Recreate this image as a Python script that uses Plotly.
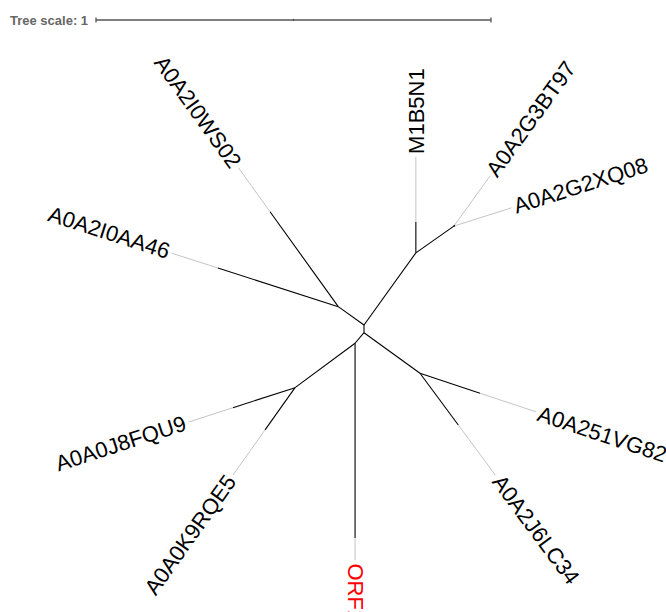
import math
import plotly.graph_objects as go

# ---- tree definition (unrooted layout, branch lengths in substitutions/site) ----
node_ids = ["root", "low", "C", "M1B5N1", "D", "A0A2G3BT97", "A0A2G2XQ08",
            "B", "A0A2I0WS02", "A0A2I0AA46", "E", "ORF1", "F",
            "A0A0J8FQU9", "A0A0K9RQE5", "G", "A0A251VG82", "A0A2J6LC34"]
parents = [None, "root", "root", "C", "C", "D", "D",
           "root", "B", "B", "low", "E", "E",
           "F", "F", "low", "G", "G"]
branch_lengths = [0.0, 0.0195, 0.225, 0.078, 0.1176, 0.003, 0.003,
                  0.080, 0.296, 0.320, 0.035, 0.493, 0.189,
                  0.165, 0.131, 0.175, 0.160, 0.163]
# direction of each branch in the unrooted drawing (degrees, counter-clockwise)
angles = [0, 270, 54.3, 90, 35.1, 54.2, 17.6,
          144.5, 125.7, 162.2, 229.7, 270, 216.5,
          197.9, 234.6, 324.1, 341.6, 306.5]
# dotted label connectors for the leaves
leaf_ext = {"M1B5N1": 0.165, "A0A2G3BT97": 0.153, "A0A2G2XQ08": 0.150,
            "A0A2I0WS02": 0.136, "A0A2I0AA46": 0.123, "ORF1": 0.056,
            "A0A0J8FQU9": 0.119, "A0A0K9RQE5": 0.140,
            "A0A251VG82": 0.150, "A0A2J6LC34": 0.158}
label_colors = {"ORF1": "#ff0000"}

tree_scale = 1.0
PX = 395.0                 # pixels per tree unit
ROOT_PX = (364.0, 325.0)   # where the root sits on the canvas
W, H = 666, 612
FONT_SIZE = 22

# Arial advance widths (em) for label width estimates
ARIAL = {"A": .667, "B": .667, "C": .722, "D": .722, "E": .667, "F": .611,
         "G": .778, "I": .278, "J": .5, "K": .667, "L": .556, "M": .833,
         "N": .722, "O": .778, "Q": .778, "R": .722, "S": .667, "T": .611,
         "U": .722, "V": .667, "W": .944, "X": .667}


def text_width(s, size):
    return sum(ARIAL.get(ch, .556) for ch in s) * size


# ---- compute node coordinates ----
pos = {}
for nid, par, bl, ang in zip(node_ids, parents, branch_lengths, angles):
    if par is None:
        pos[nid] = (0.0, 0.0)
        continue
    px, py = pos[par]
    a = math.radians(ang)
    pos[nid] = (px + bl * math.cos(a), py + bl * math.sin(a))

bx, by, gx, gy = [], [], [], []
annotations = []
for nid, par, ang in zip(node_ids, parents, angles):
    if par is None:
        continue
    x0, y0 = pos[par]
    x1, y1 = pos[nid]
    bx += [x0, x1, None]
    by += [y0, y1, None]
    if nid in leaf_ext:
        a = math.radians(ang)
        ux, uy = math.cos(a), math.sin(a)
        ex = leaf_ext[nid]
        x2, y2 = x1 + ex * ux, y1 + ex * uy
        gx += [x1, x2, None]
        gy += [y1, y2, None]
        w = text_width(nid, FONT_SIZE) / PX
        gap = 3.0 / PX
        d = gap + w / 2
        cx, cy = x2 + d * ux, y2 + d * uy
        a_norm = ang % 360
        if 90 < a_norm < 270:
            ta = -(a_norm - 180)
        else:
            ta = -(a_norm if a_norm <= 90 else a_norm - 360)
        annotations.append(dict(
            x=cx, y=cy, xref="x", yref="y", text=nid, showarrow=False,
            textangle=ta, xanchor="center", yanchor="middle",
            font=dict(family="Arial, Liberation Sans", size=FONT_SIZE,
                      color=label_colors.get(nid, "#000000"))))

fig = go.Figure()
fig.add_trace(go.Scatter(x=gx, y=gy, mode="lines",
                         line=dict(color="#c4c4c4", width=1),
                         hoverinfo="skip", showlegend=False))
fig.add_trace(go.Scatter(x=bx, y=by, mode="lines",
                         line=dict(color="#000000", width=1.1),
                         hoverinfo="skip", showlegend=False))

# ---- tree scale bar ----
sb_x0 = (96 - ROOT_PX[0]) / PX
sb_y = (ROOT_PX[1] - 20) / PX
tick = 2.5 / PX
sx = [sb_x0, sb_x0 + tree_scale, None,
      sb_x0, sb_x0, None,
      sb_x0 + tree_scale, sb_x0 + tree_scale, None,
      sb_x0 + tree_scale / 2, sb_x0 + tree_scale / 2]
sy = [sb_y, sb_y, None,
      sb_y - tick, sb_y + tick, None,
      sb_y - tick, sb_y + tick, None,
      sb_y - 1 / PX, sb_y + 1.2 / PX]
fig.add_trace(go.Scatter(x=sx, y=sy, mode="lines",
                         line=dict(color="#555555", width=1.3),
                         hoverinfo="skip", showlegend=False))
annotations.append(dict(
    x=sb_x0 - 6 / PX, y=sb_y, xref="x", yref="y",
    text="<b>Tree scale: %g</b>" % tree_scale, showarrow=False,
    xanchor="right", yanchor="middle",
    font=dict(family="Arial, Liberation Sans", size=13, color="#666666")))

fig.update_layout(
    width=W, height=H, margin=dict(l=0, r=0, t=0, b=0),
    paper_bgcolor="white", plot_bgcolor="white",
    xaxis=dict(range=[-ROOT_PX[0] / PX, (W - ROOT_PX[0]) / PX],
               visible=False, showgrid=False, zeroline=False),
    yaxis=dict(range=[-(H - ROOT_PX[1]) / PX, ROOT_PX[1] / PX],
               visible=False, showgrid=False, zeroline=False),
    annotations=annotations,
)
fig.write_html("out.html")
